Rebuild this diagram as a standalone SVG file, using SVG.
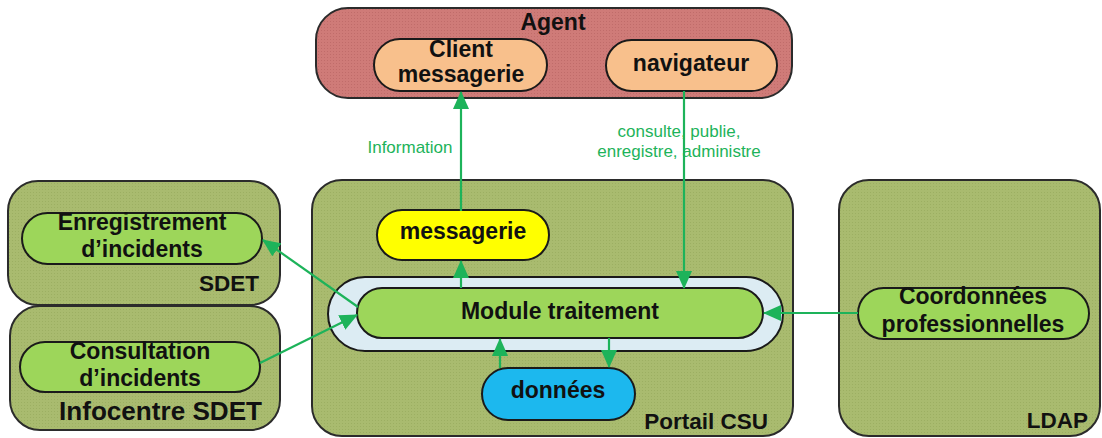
<svg xmlns="http://www.w3.org/2000/svg" width="1102" height="438" viewBox="0 0 1102 438">
<defs>
<marker id="ah" markerUnits="userSpaceOnUse" markerWidth="18" markerHeight="16" refX="17" refY="8" orient="auto">
<path d="M0,0 L18,8 L0,16 z" fill="#1db35a"/>
</marker>
<pattern id="dotG" width="3" height="3" patternUnits="userSpaceOnUse"><rect width="3" height="3" fill="#a9bb6f"/><rect width="1" height="1" fill="#9caf62"/></pattern>
<pattern id="dotR" width="3" height="3" patternUnits="userSpaceOnUse"><rect width="3" height="3" fill="#cf7b78"/><rect width="1" height="1" fill="#c06c6a"/></pattern>
</defs>
<style>
.cont{fill:url(#dotG);stroke:#2b2b2b;stroke-width:2}
.agent{fill:url(#dotR);stroke:#2b2b2b;stroke-width:2}
.node{stroke:#1a1a1a;stroke-width:2}
.gr{fill:#9dd65a}
.or{fill:#f8c08c}
.ye{fill:#ffff00}
.bl{fill:#1cb8ee}
.lb{fill:#dcecf3}
.t{font-family:"Liberation Sans",Arial,sans-serif;font-weight:bold;font-size:23px;fill:#111;text-anchor:middle}
.lab{font-family:"Liberation Sans",Arial,sans-serif;font-weight:bold;font-size:22.5px;fill:#111;text-anchor:end}
.e{font-family:"Liberation Sans",Arial,sans-serif;font-size:17px;fill:#1db35a;text-anchor:middle}
.c{stroke:#1db35a;stroke-width:2.2;fill:none;marker-end:url(#ah)}
</style>
<g id="agent">
<rect class="agent" x="316" y="8" width="476" height="90" rx="32"/>
<text class="t" x="553" y="30">Agent</text>
</g>
<g id="client-messagerie">
<rect class="node or" x="374" y="39" width="173" height="52" rx="26"/>
<text class="t" x="461" y="57">Client</text>
<text class="t" x="461" y="82">messagerie</text>
</g>
<g id="navigateur">
<rect class="node or" x="606" y="40" width="171" height="51" rx="25.5"/>
<text class="t" x="691" y="71">navigateur</text>
</g>
<g id="sdet">
<rect class="cont" x="8" y="181" width="272" height="124" rx="30"/>
<text class="lab" x="259" y="291">SDET</text>
</g>
<g id="infocentre">
<rect class="cont" x="10" y="306" width="270" height="124" rx="30"/>
<text class="lab" x="262" y="420" style="font-size:25px" textLength="203" lengthAdjust="spacingAndGlyphs">Infocentre SDET</text>
</g>
<g id="portail">
<rect class="cont" x="312" y="180" width="481" height="256" rx="30"/>
<text class="lab" x="768" y="429">Portail CSU</text>
</g>
<g id="ldap">
<rect class="cont" x="839" y="180" width="261" height="256" rx="30"/>
<text class="lab" x="1088" y="428">LDAP</text>
</g>
<g id="enregistrement">
<rect class="node gr" x="22" y="213" width="240" height="51" rx="25.5"/>
<text class="t" x="142" y="230">Enregistrement</text>
<text class="t" x="142" y="257">d’incidents</text>
</g>
<g id="consultation">
<rect class="node gr" x="20" y="342" width="240" height="50" rx="25"/>
<text class="t" x="140" y="359">Consultation</text>
<text class="t" x="140" y="386">d’incidents</text>
</g>
<g id="messagerie">
<rect class="node ye" x="377" y="210" width="172" height="50" rx="25"/>
<text class="t" x="463" y="239">messagerie</text>
</g>
<g id="module-traitement">
<rect class="node lb" x="328" y="277" width="455" height="74" rx="37"/>
<rect class="node gr" x="357" y="288" width="406" height="50" rx="25"/>
<text class="t" x="560" y="319">Module traitement</text>
</g>
<g id="donnees">
<rect class="node bl" x="482" y="368" width="153" height="52" rx="26"/>
<text class="t" x="558" y="398">données</text>
</g>
<g id="coordonnees">
<rect class="node gr" x="858" y="288" width="231" height="51" rx="25.5"/>
<text class="t" x="973" y="304">Coordonnées</text>
<text class="t" x="973" y="332">professionnelles</text>
</g>
<g id="connectors">
<line class="c" x1="461" y1="211" x2="461" y2="92"/>
<text class="e" x="410" y="153">Information</text>
<line class="c" x1="684" y1="91" x2="684" y2="288"/>
<text class="e" x="679" y="137">consulte, publie,</text>
<text class="e" x="679" y="157">enregistre, administre</text>
<line class="c" x1="461" y1="288" x2="461" y2="261"/>
<line class="c" x1="500" y1="368" x2="500" y2="339"/>
<line class="c" x1="609" y1="338" x2="609" y2="367"/>
<line class="c" x1="858" y1="313" x2="764" y2="313"/>
<line class="c" x1="358" y1="307" x2="263" y2="240"/>
<line class="c" x1="260" y1="363" x2="357" y2="315"/>
</g>
</svg>
